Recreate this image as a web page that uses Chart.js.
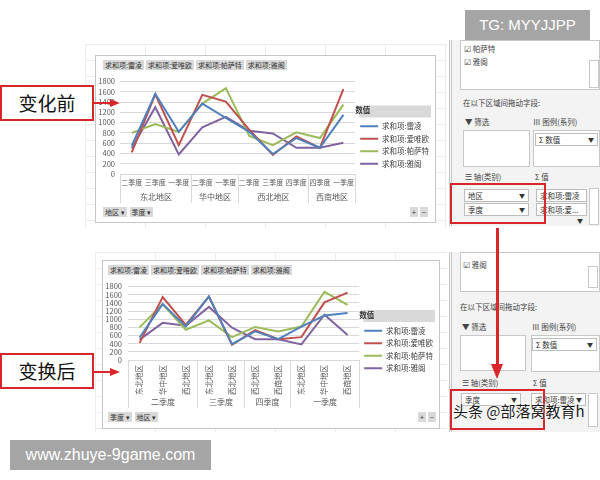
<!DOCTYPE html>
<html>
<head>
<meta charset="utf-8">
<script src="https://cdn.jsdelivr.net/npm/chart.js@4.4.0/dist/chart.umd.min.js"></script>
<style>
  body { margin: 0; width: 600px; height: 480px; position: relative; background: #fff; overflow: hidden;
         font-family: "Noto Sans CJK SC", "Noto Sans", sans-serif; color: #333; }
  .abs { position: absolute; }
  .sheet { background-color: #fff;
           background-image: linear-gradient(#ececec 1px, transparent 1px), linear-gradient(90deg, #ececec 1px, transparent 1px);
           background-size: 60px 16px; }
  .frame { background: #fff; border: 1px solid #c6c6c6; }
  .btn { background: #d9d9d9; font-size: 7px; line-height: 10px; height: 10px; padding: 0 2px; white-space: nowrap; color: #333; }
  .pane { background: #f3f3f3; border-left: 3px double #c8c8c8; }
  .box { background: #fff; border: 1px solid #c8c8c8; }
  .t8 { font-size: 7.5px; line-height: 10px; white-space: nowrap; color: #444; }
  .fld { background: #fff; border: 1px solid #bdbdbd; font-size: 7.5px; line-height: 11px; height: 11px; padding: 0 3px; white-space: nowrap; }
  .fld span { float: right; font-size: 6px; }
  .red { border: 2px solid #d9262b; }
  .tag { border: 2px solid #d9262b; background: #fff; font-size: 19px; line-height: 32px; text-align: center; color: #111; }
  .grey { background: #a5a5a5; color: #fff; font-family: "Liberation Sans", "DejaVu Sans", sans-serif; text-align: center; }
  canvas { position: absolute; }
</style>
</head>
<body>

<!-- spreadsheet areas -->
<div class="abs sheet" style="left:85px;top:44px;width:362px;height:184px;"></div>
<div class="abs sheet" style="left:95px;top:252px;width:352px;height:180px;"></div>

<!-- chart frames -->
<div class="abs frame" style="left:95px;top:55px;width:339px;height:166px;"></div>
<div class="abs frame" style="left:102px;top:260px;width:336px;height:167px;"></div>

<!-- field buttons, top -->
<div class="abs" style="left:103px;top:60px;display:flex;gap:2px;">
  <div class="btn">求和项:雷凌</div><div class="btn">求和项:爱唯欧</div><div class="btn">求和项:帕萨特</div><div class="btn">求和项:雅阁</div>
</div>
<div class="abs" style="left:103px;top:207px;display:flex;gap:3px;">
  <div class="btn">地区 ▾</div><div class="btn">季度 ▾</div>
</div>
<div class="abs" style="left:410px;top:207px;display:flex;gap:2px;">
  <div class="btn">+</div><div class="btn">−</div>
</div>

<!-- field buttons, bottom -->
<div class="abs" style="left:108px;top:265px;display:flex;gap:2px;">
  <div class="btn">求和项:雷凌</div><div class="btn">求和项:爱唯欧</div><div class="btn">求和项:帕萨特</div><div class="btn">求和项:雅阁</div>
</div>
<div class="abs" style="left:108px;top:412px;display:flex;gap:3px;">
  <div class="btn">季度 ▾</div><div class="btn">地区 ▾</div>
</div>
<div class="abs" style="left:418px;top:412px;display:flex;gap:2px;">
  <div class="btn">+</div><div class="btn">−</div>
</div>

<canvas id="topChart" style="left:96px;top:72px;" width="343" height="133"></canvas>
<canvas id="bottomChart" style="left:102px;top:276px;" width="341" height="134"></canvas>

<!-- field pane, top -->
<div class="abs pane" style="left:449px;top:40px;width:151px;height:186px;"></div>
<div class="abs box" style="left:460px;top:40px;width:138px;height:48px;"></div>
<div class="abs t8" style="left:464px;top:44px;">☑ 帕萨特</div>
<div class="abs t8" style="left:464px;top:57px;">☑ 雅阁</div>
<div class="abs box" style="left:589px;top:60px;width:8px;height:26px;"></div>
<div class="abs t8" style="left:463px;top:98px;">在以下区域间拖动字段:</div>
<div class="abs t8" style="left:465px;top:117px;">▼ 筛选</div>
<div class="abs t8" style="left:533px;top:117px;">Ⅲ 图例(系列)</div>
<div class="abs box" style="left:463px;top:130px;width:65px;height:35px;"></div>
<div class="abs box" style="left:533px;top:130px;width:65px;height:35px;"></div>
<div class="abs fld" style="left:535px;top:133px;width:55px;">Σ 数值<span>▼</span></div>
<div class="abs t8" style="left:465px;top:172px;">☰ 轴(类别)</div>
<div class="abs t8" style="left:535px;top:172px;">Σ 值</div>
<div class="abs fld" style="left:464px;top:189px;width:57px;">地区<span>▼</span></div>
<div class="abs fld" style="left:464px;top:203px;width:57px;">季度<span>▼</span></div>
<div class="abs fld" style="left:536px;top:189px;width:43px;">求和项:雷凌<span>▼</span></div>
<div class="abs fld" style="left:536px;top:203px;width:43px;">求和项:爱...<span>▼</span></div>
<div class="abs box" style="left:589px;top:188px;width:8px;height:35px;"></div>
<div class="abs red" style="left:450px;top:183px;width:92px;height:37px;"></div>

<!-- field pane, bottom -->
<div class="abs pane" style="left:449px;top:252px;width:151px;height:180px;"></div>
<div class="abs box" style="left:460px;top:252px;width:138px;height:38px;"></div>
<div class="abs t8" style="left:463px;top:260px;">☑ 雅阁</div>
<div class="abs box" style="left:588px;top:266px;width:8px;height:20px;"></div>
<div class="abs t8" style="left:460px;top:302px;">在以下区域间拖动字段:</div>
<div class="abs t8" style="left:462px;top:322px;">▼ 筛选</div>
<div class="abs t8" style="left:532px;top:322px;">Ⅲ 图例(系列)</div>
<div class="abs box" style="left:460px;top:335px;width:64px;height:34px;"></div>
<div class="abs box" style="left:531px;top:335px;width:67px;height:35px;"></div>
<div class="abs fld" style="left:532px;top:338px;width:57px;">Σ 数值<span>▼</span></div>
<div class="abs t8" style="left:462px;top:378px;">☰ 轴(类别)</div>
<div class="abs t8" style="left:533px;top:378px;">Σ 值</div>
<div class="abs fld" style="left:461px;top:393px;width:52px;">季度<span>▼</span></div>
<div class="abs fld" style="left:531px;top:393px;width:47px;">求和项:雷凌<span>▼</span></div>
<div class="abs box" style="left:588px;top:393px;width:8px;height:32px;"></div>
<div class="abs red" style="left:450px;top:389px;width:91px;height:37px;"></div>

<!-- red vertical arrow -->
<div class="abs" style="left:496px;top:228px;width:3px;height:138px;background:#d9262b;"></div>
<div class="abs" style="left:491px;top:364px;width:0;height:0;border-left:6px solid transparent;border-right:6px solid transparent;border-top:15px solid #d9262b;"></div>

<!-- side tags -->
<div class="abs tag" style="left:0px;top:85px;width:90px;height:32px;">变化前</div>
<div class="abs" style="left:93px;top:102px;width:18px;height:2px;background:#d9262b;"></div>
<div class="abs" style="left:110px;top:99px;width:0;height:0;border-top:4px solid transparent;border-bottom:4px solid transparent;border-left:10px solid #d9262b;"></div>

<div class="abs tag" style="left:0px;top:353px;width:90px;height:32px;">变换后</div>
<div class="abs" style="left:93px;top:371px;width:18px;height:2px;background:#d9262b;"></div>
<div class="abs" style="left:110px;top:368px;width:0;height:0;border-top:4px solid transparent;border-bottom:4px solid transparent;border-left:10px solid #d9262b;"></div>

<!-- watermarks -->
<div class="abs grey" style="left:465px;top:10px;width:125px;height:30px;font-size:15px;line-height:30px;">TG: MYYJJPP</div>
<div class="abs grey" style="left:10px;top:440px;width:201px;height:30px;font-size:16px;line-height:30px;">www.zhuye-9game.com</div>
<div class="abs" style="left:453px;top:402px;font-size:15px;line-height:18px;color:#1a1a1a;white-space:nowrap;text-shadow:0 0 2px #fff,0 0 2px #fff;">头条 @部落窝教育h</div>

<script>
const topRegions = ["东北地区", "东北地区", "东北地区", "华中地区", "华中地区", "西北地区", "西北地区", "西北地区", "西南地区", "西南地区"];
const topQuarters = ["二季度", "三季度", "一季度", "二季度", "一季度", "二季度", "三季度", "四季度", "四季度", "一季度"];
const seriesNames = ["求和项:雷凌", "求和项:爱唯欧", "求和项:帕萨特", "求和项:雅阁"];
const leiling = [550, 1560, 820, 1370, 1090, 820, 390, 700, 510, 1150];
const aiweiou = [420, 1550, 560, 1540, 1410, 860, 370, 730, 510, 1650];
const pasate = [800, 970, 820, 1370, 1670, 740, 560, 810, 700, 1350];
const yage = [500, 1300, 380, 910, 1110, 840, 790, 510, 510, 610];
const seriesColors = ["#4f81bd", "#c0504d", "#9bbb59", "#8064a2"];

// "after" chart: quarter-major order of the same cells
const bottomQuarters = ["二季度", "二季度", "二季度", "三季度", "三季度", "四季度", "四季度", "一季度", "一季度", "一季度"];
const bottomRegions = ["东北地区", "华中地区", "西北地区", "东北地区", "西北地区", "西北地区", "西南地区", "东北地区", "华中地区", "西南地区"];

const yTicks = { min: 0, max: 1800, step: 200 };
const FONT = "'Noto Sans CJK SC', 'Noto Sans', sans-serif";
const allSeries = [leiling, aiweiou, pasate, yage];

function reorder(values) {
  return bottomRegions.map((r, i) => {
    const k = topRegions.findIndex((tr, j) => tr === r && topQuarters[j] === bottomQuarters[i]);
    return values[k];
  });
}

// second row of the category axis (outer group) with separators
const groupRow = {
  id: "groupRow",
  afterDraw(chart, args, opts) {
    const x = chart.scales.x;
    const groups = opts.groups;
    const ctx = chart.ctx;
    const step = x.getPixelForValue(1) - x.getPixelForValue(0);
    ctx.save();
    ctx.strokeStyle = "#d9d9d9";
    ctx.lineWidth = 1;
    ctx.fillStyle = "#595959";
    ctx.font = "8px " + FONT;
    ctx.textAlign = "center";
    ctx.textBaseline = "middle";
    let start = 0;
    for (let i = 1; i <= groups.length; i++) {
      if (i === groups.length || groups[i] !== groups[start]) {
        const left = Math.round(x.getPixelForValue(start) - step / 2) + 0.5;
        const right = Math.round(x.getPixelForValue(i - 1) + step / 2) + 0.5;
        ctx.beginPath();
        ctx.moveTo(left, x.top); ctx.lineTo(left, x.bottom);
        ctx.moveTo(right, x.top); ctx.lineTo(right, x.bottom);
        ctx.stroke();
        ctx.fillText(groups[start], (left + right) / 2, x.bottom - opts.textOffset);
        start = i;
      }
    }
    ctx.restore();
  }
};

// grey band behind the legend title
const legendHeader = {
  id: "legendHeader",
  beforeDraw(chart) {
    const lg = chart.legend;
    if (!lg || !lg.legendHitBoxes || !lg.legendHitBoxes.length) return;
    const th = lg._computeTitleHeight();
    const top = lg.legendHitBoxes[0].top - lg.options.labels.padding - th;
    const ctx = chart.ctx;
    ctx.save();
    ctx.fillStyle = "#d9d9d9";
    ctx.fillRect(lg.left + 4, top + 1, lg.width - 12, th - 1);
    ctx.restore();
  }
};

function makeChart(id, labels, groups, seriesData, cfg) {
  new Chart(document.getElementById(id), {
    type: "line",
    data: {
      labels: labels,
      datasets: seriesNames.map((name, i) => ({
        label: name,
        data: seriesData[i],
        borderColor: seriesColors[i],
        backgroundColor: seriesColors[i],
        borderWidth: 2,
        pointRadius: 0,
        tension: 0
      }))
    },
    options: {
      responsive: false,
      animation: false,
      layout: { padding: cfg.padding },
      scales: {
        x: {
          type: "category",
          offset: true,
          grid: { display: false, drawTicks: false },
          border: { display: false },
          ticks: {
            autoSkip: false,
            maxRotation: cfg.rotation,
            minRotation: cfg.rotation,
            padding: cfg.xPad,
            color: "#595959",
            font: { family: FONT, size: cfg.xFont }
          },
          afterFit: (s) => { s.height = cfg.xHeight; }
        },
        y: {
          min: yTicks.min,
          max: yTicks.max,
          grid: { color: "#d9d9d9", drawTicks: false },
          border: { display: false },
          ticks: {
            stepSize: yTicks.step,
            autoSkip: false,
            padding: cfg.yPad,
            color: "#595959",
            font: { family: FONT, size: 7.5 },
            callback: (v) => String(v)
          },
          afterFit: (s) => { s.width = cfg.yWidth; }
        }
      },
      plugins: {
        legend: {
          position: "right",
          align: "center",
          title: {
            display: true,
            text: "数值",
            position: "start",
            color: "#333",
            font: { family: FONT, size: 7.5, weight: "bold" },
            padding: { top: 2, bottom: 2, left: 4 }
          },
          labels: {
            usePointStyle: true,
            pointStyle: "line",
            pointStyleWidth: 18,
            boxHeight: 8,
            padding: 5,
            color: "#404040",
            font: { family: FONT, size: 7.5 }
          }
        },
        tooltip: { enabled: false },
        groupRow: { groups: groups, textOffset: cfg.groupOffset }
      }
    },
    plugins: [groupRow, legendHeader]
  });
}

makeChart("topChart", topQuarters, topRegions, allSeries, {
  padding: { left: 2, top: 2, right: 0, bottom: 2 },
  rotation: 0, xFont: 7, xPad: 4, xHeight: 29, yWidth: 22, yPad: 5, groupOffset: 6
});

makeChart("bottomChart", bottomRegions, bottomQuarters, allSeries.map(reorder), {
  padding: { left: 2, top: 2, right: 0, bottom: 2 },
  rotation: 90, xFont: 7.5, xPad: 5, xHeight: 48, yWidth: 24, yPad: 6, groupOffset: 6
});
</script>
</body>
</html>
